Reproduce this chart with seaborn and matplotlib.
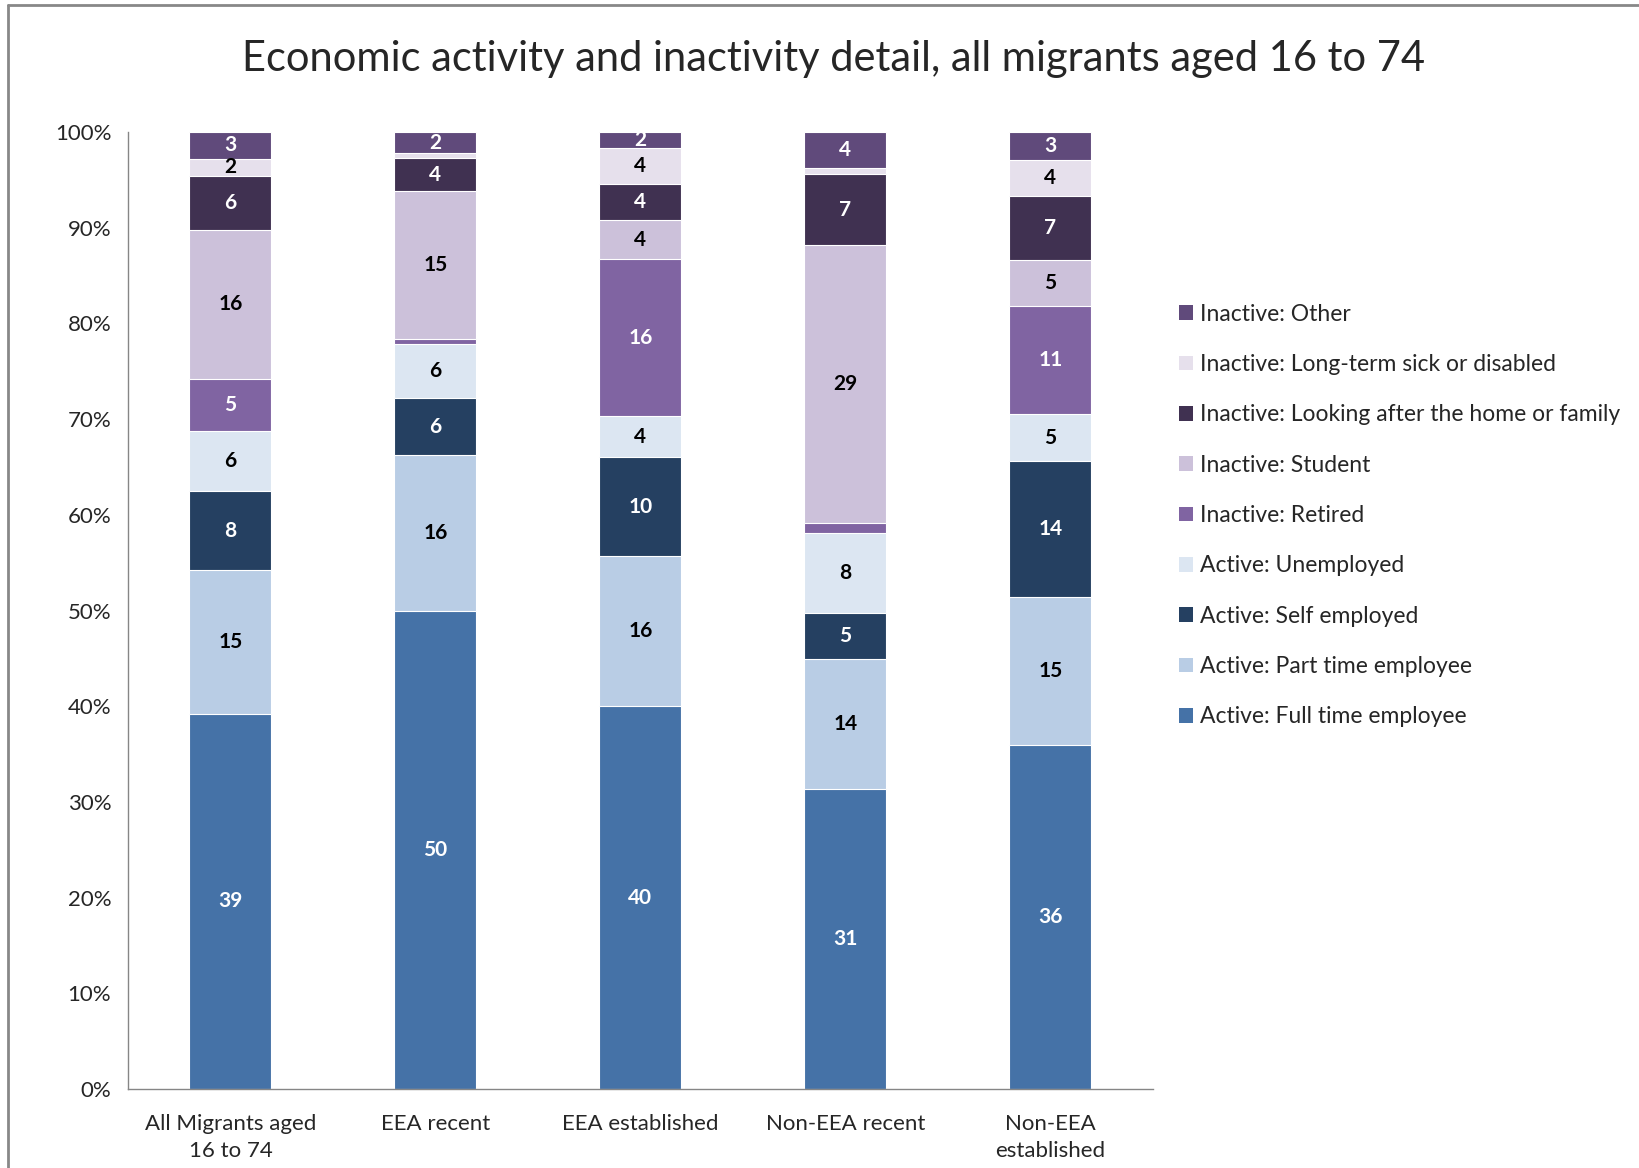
import numpy as np
import pandas as pd
import matplotlib
matplotlib.use("Agg")
import matplotlib.pyplot as plt
from matplotlib.patches import Patch
from matplotlib.lines import Line2D
import seaborn as sns

groups = ["All Migrants aged\n16 to 74", "EEA recent", "EEA established",
          "Non-EEA recent", "Non-EEA\nestablished"]

series = ["Active: Full time employee", "Active: Part time employee",
          "Active: Self employed", "Active: Unemployed", "Inactive: Retired",
          "Inactive: Student", "Inactive: Looking after the home or family",
          "Inactive: Long-term sick or disabled", "Inactive: Other"]

full_time = [39.2, 50.0, 40.0, 31.3, 36.0]
part_time = [15.0, 16.2, 15.7, 13.6, 15.4]
self_emp = [8.3, 6.0, 10.3, 4.8, 14.2]
unemployed = [6.3, 5.6, 4.3, 8.4, 4.9]
retired = [5.4, 0.6, 16.4, 1.0, 11.3]
student = [15.6, 15.4, 4.1, 29.1, 4.8]
home_family = [5.6, 3.5, 3.8, 7.4, 6.7]
sick = [1.8, 0.5, 3.7, 0.6, 3.8]
other = [2.8, 2.2, 1.7, 3.8, 2.9]

colors = ["#4572A7", "#B9CDE5", "#254061", "#DCE6F2", "#8064A2",
          "#CCC1DA", "#403151", "#E6E0EC", "#604A7B"]
text_colors = ["white", "black", "white", "black", "white",
               "black", "white", "black", "white"]

vals = np.array([full_time, part_time, self_emp, unemployed, retired,
                 student, home_family, sick, other])
cum = vals.cumsum(axis=0)

sns.set_style("white")
plt.rcParams["font.family"] = ["Lato", "DejaVu Sans"]

fig = plt.figure(figsize=(16.4, 11.68), dpi=100)
ax = fig.add_axes([0.078, 0.0676, 0.625, 0.8194])

# draw cumulative totals from the top down so each layer overlays the next
for i in range(len(series) - 1, -1, -1):
    df = pd.DataFrame({"group": groups, "value": cum[i]})
    sns.barplot(data=df, x="group", y="value", order=groups, color=colors[i],
                width=0.4, saturation=1, edgecolor="white", linewidth=0.8, ax=ax)

for i in range(len(series)):
    for j in range(len(groups)):
        v = vals[i, j]
        if v >= 1.5:
            ax.text(j, cum[i, j] - v / 2, f"{v:.0f}", ha="center", va="center",
                    fontsize=15, fontweight="bold", color=text_colors[i])

ax.set_ylim(0, 100)
ax.set_xlim(-0.5, 4.5)
ax.set_yticks(range(0, 101, 10))
ax.set_yticklabels([f"{t}%" for t in range(0, 101, 10)], fontsize=16)
ax.set_xticks(range(len(groups)))
ax.set_xticklabels(groups, fontsize=16, linespacing=1.45)
ax.set_xticks(np.arange(-0.5, 5, 1), minor=True)
ax.tick_params(axis="x", which="major", length=0, pad=18)
ax.tick_params(axis="x", which="minor", length=7, color="#868686", direction="out")
ax.tick_params(axis="y", length=6, color="#868686", direction="out", pad=6)
ax.set_xlabel("")
ax.set_ylabel("")
for s in ["top", "right"]:
    ax.spines[s].set_visible(False)
for s in ["left", "bottom"]:
    ax.spines[s].set_color("#868686")
    ax.spines[s].set_linewidth(1)

fig.suptitle("Economic activity and inactivity detail, all migrants aged 16 to 74",
             x=0.508, y=0.966, fontsize=30)

handles = [Patch(facecolor=colors[i], edgecolor="none", label=series[i])
           for i in range(len(series) - 1, -1, -1)]
fig.legend(handles=handles, loc="upper left", bbox_to_anchor=(0.719, 0.740),
           frameon=False, fontsize=16.5, handlelength=0.6, handleheight=0.6,
           handletextpad=0.3, labelspacing=1.28, borderpad=0, borderaxespad=0)

# outer chart frame (top and left visible)
fig.add_artist(Line2D([0.005, 1.0], [0.996, 0.996], color="#888888", lw=2))
fig.add_artist(Line2D([0.005, 0.005], [0.0, 0.996], color="#888888", lw=2))

plt.savefig("out.png", dpi=100)
